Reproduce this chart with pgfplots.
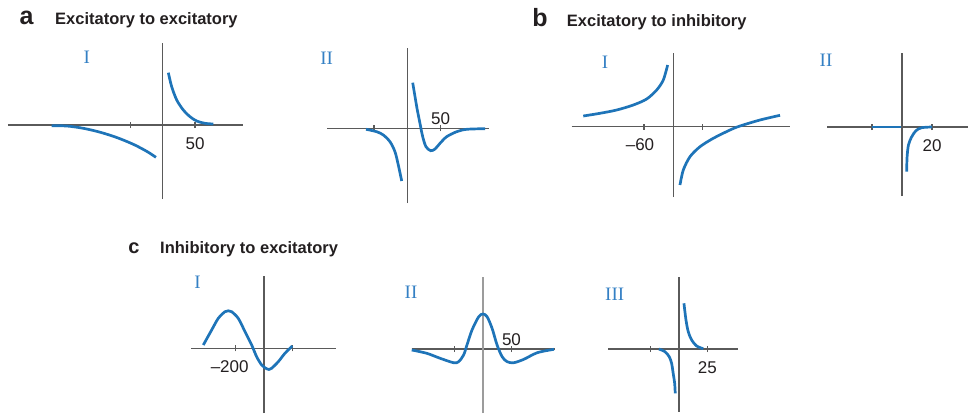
\documentclass[border=0pt]{standalone}
\usepackage{pgfplots}
\pgfplotsset{compat=1.18}
\usepackage{fontspec}
\setmainfont{Liberation Sans}
\newfontfamily\numfont{Liberation Serif}

\definecolor{cblue}{RGB}{30,116,184}
\definecolor{nblue}{RGB}{52,128,196}
\definecolor{axgray}{RGB}{90,90,90}
\definecolor{txt}{RGB}{35,31,32}

\newcommand\ticks{\fontsize{17}{17}\selectfont}
\newcommand\ttl{\fontsize{16.5}{17}\selectfont\bfseries}

\pgfplotsset{
  mini/.style={
    scale only axis, anchor=north west, clip=false,
    axis lines=middle,
    axis line style={-, draw=axgray, line width=1.1pt},
    ytick=\empty,
    tick align=center, major tick length=6pt,
    every tick/.style={draw=axgray, line width=1.1pt},
    xlabel={}, ylabel={},
  },
  below/.style={xticklabel style={font=\ticks, text=txt, inner sep=0pt, anchor=north, yshift=-9pt}},
  above/.style={xticklabel style={font=\ticks, text=txt, inner sep=0pt, anchor=south, yshift=6pt}},
  curve/.style={draw=cblue, line width=2.7pt, smooth, mark=none},
}

\begin{document}
\begin{tikzpicture}
\path[use as bounding box] (0,0) rectangle (969pt,-414pt);

% titles
\node[anchor=base, font=\fontsize{25}{25}\selectfont\bfseries, text=txt] at (26.7pt,-25pt) {a};
\node[anchor=base west, font=\ttl, text=txt, inner sep=0pt] at (55pt,-25pt) {Excitatory to excitatory};
\node[anchor=base, font=\fontsize{25}{25}\selectfont\bfseries, text=txt] at (540pt,-26.7pt) {b};
\node[anchor=base west, font=\ttl, text=txt, inner sep=0pt] at (566.7pt,-27pt) {Excitatory to inhibitory};
\node[anchor=base, font=\fontsize{20}{20}\selectfont\bfseries, text=txt] at (134pt,-253.3pt) {c};
\node[anchor=base west, font=\ttl, text=txt, inner sep=0pt] at (160pt,-253.3pt) {Inhibitory to excitatory};

% panel numerals
\begin{scope}[every node/.style={font=\fontsize{19}{19}\selectfont\numfont, text=nblue, inner sep=0pt}]
\node at (86.7pt,-57pt) {I};
\node at (326.7pt,-58pt) {II};
\node at (605pt,-62pt) {I};
\node at (826pt,-60pt) {II};
\node at (197.5pt,-282.5pt) {I};
\node at (411pt,-292.5pt) {II};
\node at (614.7pt,-294pt) {III};
\end{scope}

% a I
\begin{axis}[mini, below, at={(8pt,-43pt)}, width=235pt, height=156pt,
  xmin=-239.5, xmax=124.3, ymin=-74, ymax=82,
  xtick={-50,50}, xticklabels={,50}]
\addplot[curve] coordinates {(-171.8,-0.8) (-148.6,-1) (-122.9,-3.3) (-97,-7.2) (-71.2,-12.5) (-45.5,-19.3) (-24.8,-26.3) (-10.4,-32.3)};
\addplot[curve] coordinates {(8.7,52.3) (13.9,38.3) (21.7,25) (31.9,15) (42.3,8.3) (52.6,4) (65.5,1.7) (78.3,1)};
\end{axis}

% a II
\begin{axis}[mini, above, at={(327pt,-48pt)}, width=162pt, height=155pt,
  xmin=-120.5, xmax=122.6, ymin=-74.7, ymax=80.3,
  xtick={-50,50}, xticklabels={,50}]
\addplot[curve] coordinates {(-62,-1) (-46,-3.4) (-36,-6.7) (-26,-13.4) (-18.5,-23.4) (-13.5,-36.7) (-8.4,-52.7)};
\addplot[curve] coordinates {(8.1,45.6) (11.6,31.6) (15,18.3) (19,5) (23.1,-8.4) (28,-18.4) (35.1,-22.4) (41.6,-20.7) (49.1,-15) (59.1,-8.4) (74.1,-3.4) (89.1,-1) (116.7,-0.4)};
\end{axis}

% b I
\begin{axis}[mini, below, at={(571.7pt,-53pt)}, width=218.3pt, height=144pt,
  xmin=-208, xmax=239, ymin=-70.3, ymax=73.7,
  xticklabel style={xshift=-4pt},
  xtick={-60,60}, xticklabels={–60,}]
\addplot[curve] coordinates {(-184.3,10.7) (-150.1,13.4) (-115.9,16.7) (-81.9,21.7) (-54.5,27.7) (-34,36.7) (-20.5,46.7) (-11.5,61.7)};
\addplot[curve] coordinates {(13.7,-58.3) (20.5,-43.3) (34.2,-30) (54.7,-20) (81.9,-11.6) (116.1,-3.3) (136.6,0.7) (177.6,6.7) (218.6,11.4)};
\end{axis}

% b II
\begin{axis}[mini, below, at={(827pt,-52.7pt)}, width=141pt, height=143.3pt,
  xmin=-50, xmax=44, ymin=-69, ymax=74.3,
  xtick={-20,20}, xticklabels={,20}]
\addplot[curve, line width=2.2pt] coordinates {(-20,0) (-1,0)};
\addplot[curve] coordinates {(3.1,-44.7) (3.4,-30) (4.3,-18) (6.5,-9.7) (9.3,-3.7) (13.1,-0.7) (20,0)};
\end{axis}

% c I
\begin{axis}[mini, below, at={(191pt,-276pt)}, width=144.7pt, height=137pt,
  xmin=-516, xmax=507, ymin=-64.7, ymax=72.3,
  xticklabel style={xshift=-6pt},
  xtick={-200,200}, xticklabels={–200,}]
\addplot[curve] coordinates {(-429,3.3) (-370,18.3) (-323,30) (-276,36.6) (-252,37.5) (-229,36.6) (-182,30) (-134,16.6) (-87,3.3) (-52,-8.4) (-16,-16.7) (19,-20.5) (35,-21.2) (54,-20) (101,-13.4) (148,-5) (200,2.3)};
\end{axis}

% c II
\begin{axis}[mini, above, at={(411.7pt,-276.7pt)}, width=143.3pt, height=136.3pt,
  xmin=-125.5, xmax=126.6, ymin=-64, ymax=72.3,
  y axis line style={draw=axgray!60},
  xtick={-50,50}, xticklabels={,50}]
\addplot[curve] coordinates {(-125.5,-1) (-99,-4.3) (-75.4,-9.3) (-51.9,-13.7) (-43,-12.7) (-34.2,-6) (-28.3,4) (-19.4,19) (-7.6,32.3) (0,35) (7.1,32.3) (15.9,20.7) (24.7,4) (33.6,-7.7) (42.4,-12.7) (54.1,-13.7) (71.8,-10.3) (95.4,-3.7) (124.8,-0.3)};
\end{axis}

% c III
\begin{axis}[mini, below, at={(608.3pt,-276.7pt)}, width=130pt, height=135pt,
  xmin=-62.4, xmax=52.4, ymin=-62.7, ymax=72.3,
  xtick={-25,25}, xticklabels={,25}]
\addplot[curve] coordinates {(-17.7,0) (-12.4,-2.7) (-8.6,-7.7) (-6.5,-14.3) (-5.1,-24.3) (-3.8,-34.3) (-3.3,-44.3)};
\addplot[curve] coordinates {(4.4,45.7) (6.2,29) (8.2,17.3) (11.2,9) (15.6,3) (21.5,0.3)};
\end{axis}
\end{tikzpicture}
\end{document}
